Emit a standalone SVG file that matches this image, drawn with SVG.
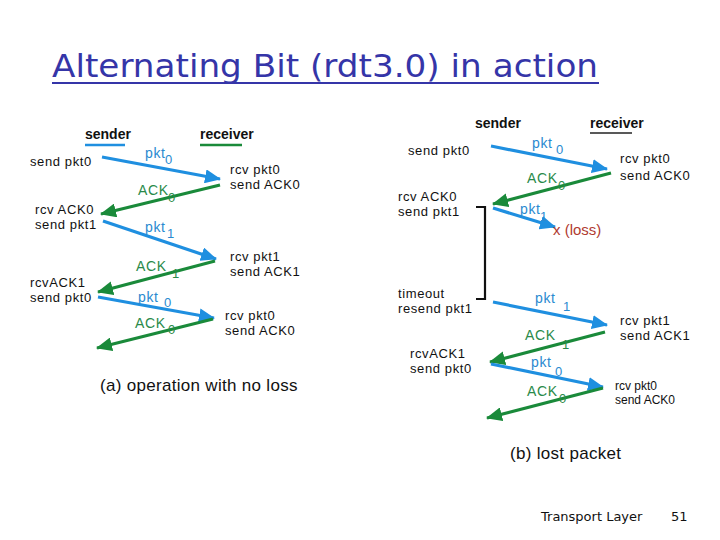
<svg xmlns="http://www.w3.org/2000/svg" width="720" height="540" viewBox="0 0 720 540">
<defs>
<marker id="ab" markerUnits="userSpaceOnUse" markerWidth="16" markerHeight="14" refX="15" refY="7" orient="auto"><path d="M0,0 L16,7 L0,14 z" fill="#1f8fe0"/></marker>
<marker id="ag" markerUnits="userSpaceOnUse" markerWidth="16" markerHeight="14" refX="15" refY="7" orient="auto"><path d="M0,0 L16,7 L0,14 z" fill="#1a8a3a"/></marker>
<style>
text{font-family:"Liberation Sans",Arial,sans-serif;font-size:13px;letter-spacing:0.6px;fill:#111}
.hd{font-weight:bold;font-size:14px;letter-spacing:0}
.pk{fill:#2a8ad0;font-size:14px}
.ak{fill:#2a8a4a;font-size:14px}
.sub{font-size:13px}
.sm{font-size:12px;letter-spacing:0}
.cap{font-size:17px;letter-spacing:0.3px}
.b{stroke:#1f8fe0;stroke-width:3.2;fill:none;marker-end:url(#ab)}
.g{stroke:#1a8a3a;stroke-width:3.2;fill:none;marker-end:url(#ag)}
.ft{font-family:"DejaVu Sans",sans-serif;font-size:13px;letter-spacing:0}
</style>
</defs>
<rect width="720" height="540" fill="#fff"/>
<g id="title">
<text x="52" y="77" style="font-family:'DejaVu Sans',sans-serif;font-size:32px;fill:#3535a8;letter-spacing:0" textLength="546" lengthAdjust="spacingAndGlyphs">Alternating Bit (rdt3.0) in action</text>
<line x1="52" y1="83" x2="599" y2="83" stroke="#3535a8" stroke-width="2"/>
</g>
<g id="connectors">
<path class="b" d="M102,157 L220,179"/>
<path class="g" d="M220,185 L101,214"/>
<path class="b" d="M103,221 L216,259"/>
<path class="g" d="M215,261 L98,292"/>
<path class="b" d="M98,297 L214,318"/>
<path class="g" d="M213,319 L97,348"/>
<path class="b" d="M491,146 L607,169"/>
<path class="g" d="M611,173 L493,204"/>
<path class="b" d="M493,208 L555,227"/>
<path class="b" d="M493,302 L607,325"/>
<path class="g" d="M605,332 L490,362"/>
<path class="b" d="M491,364 L603,387"/>
<path class="g" d="M603,388 L487,418"/>
<path d="M476,207 L485,207 L485,299 L476,299" stroke="#111" stroke-width="2.2" fill="none"/>
</g>
<g id="diagram-a">
<g id="a-sender"><text class="hd" x="85" y="139">sender</text><line x1="85" y1="145" x2="125" y2="145" stroke="#1f8fe0" stroke-width="2.5"/></g>
<g id="a-receiver"><text class="hd" x="200" y="139">receiver</text><line x1="200" y1="145" x2="242" y2="145" stroke="#1a8a3a" stroke-width="2.5"/></g>
<g id="a-s1"><text x="30" y="166">send pkt0</text></g>
<g id="a-r1"><text x="230" y="174">rcv pkt0</text><text x="230" y="189">send ACK0</text></g>
<g id="a-s2"><text x="35" y="214">rcv ACK0</text><text x="35" y="229">send pkt1</text></g>
<g id="a-r2"><text x="230" y="261">rcv pkt1</text><text x="230" y="276">send ACK1</text></g>
<g id="a-s3"><text x="30" y="287">rcvACK1</text><text x="30" y="302">send pkt0</text></g>
<g id="a-r3"><text x="225" y="320">rcv pkt0</text><text x="225" y="335">send ACK0</text></g>
<g id="a-labels">
<text class="pk" x="145" y="158">pkt</text><text class="pk sub" x="165" y="164">0</text>
<text class="ak" x="138" y="195">ACK</text><text class="ak sub" x="168" y="202">0</text>
<text class="pk" x="145" y="232">pkt</text><text class="pk sub" x="167" y="238">1</text>
<text class="ak" x="136" y="271">ACK</text><text class="ak sub" x="172" y="278">1</text>
<text class="pk" x="138" y="302">pkt</text><text class="pk sub" x="164" y="307">0</text>
<text class="ak" x="135" y="328">ACK</text><text class="ak sub" x="168" y="334">0</text>
</g>
<g id="a-caption"><text class="cap" x="100" y="391">(a) operation with no loss</text></g>
</g>
<g id="diagram-b">
<g id="b-sender"><text class="hd" x="475" y="128">sender</text></g>
<g id="b-receiver"><text class="hd" x="590" y="128">receiver</text><line x1="590" y1="133" x2="632" y2="133" stroke="#222" stroke-width="1.5"/></g>
<g id="b-s1"><text x="408" y="155">send pkt0</text></g>
<g id="b-r1"><text x="620" y="163">rcv pkt0</text><text x="620" y="180">send ACK0</text></g>
<g id="b-s2"><text x="398" y="201">rcv ACK0</text><text x="398" y="216">send pkt1</text></g>
<g id="b-loss"><text x="553" y="235" style="fill:#b03a30;font-size:15px;letter-spacing:0">x (loss)</text></g>
<g id="b-s3"><text x="398" y="298">timeout</text><text x="398" y="313">resend pkt1</text></g>
<g id="b-r2"><text x="620" y="325">rcv pkt1</text><text x="620" y="340">send ACK1</text></g>
<g id="b-s4"><text x="410" y="358">rcvACK1</text><text x="410" y="373">send pkt0</text></g>
<g id="b-r3"><text class="sm" x="615" y="390">rcv pkt0</text><text class="sm" x="615" y="404">send ACK0</text></g>
<g id="b-labels">
<text class="pk" x="532" y="148">pkt</text><text class="pk sub" x="556" y="154">0</text>
<text class="ak" x="527" y="183">ACK</text><text class="ak sub" x="558" y="190">0</text>
<text class="pk" x="520" y="214">pkt</text><text class="pk sub" x="540" y="221">1</text>
<text class="pk" x="535" y="303">pkt</text><text class="pk sub" x="563" y="311">1</text>
<text class="ak" x="525" y="340">ACK</text><text class="ak sub" x="562" y="349">1</text>
<text class="pk" x="531" y="367">pkt</text><text class="pk sub" x="555" y="376">0</text>
<text class="ak" x="527" y="396">ACK</text><text class="ak sub" x="559" y="403">0</text>
</g>
<g id="b-caption"><text class="cap" x="510" y="459">(b) lost packet</text></g>
</g>
<g id="footer">
<text class="ft" x="541" y="521">Transport Layer</text>
<text class="ft" x="671" y="521">51</text>
</g>
</svg>
